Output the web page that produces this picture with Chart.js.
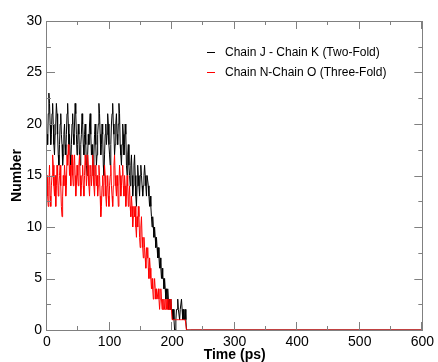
<!DOCTYPE html>
<html>
<head>
<meta charset="utf-8">
<script src="https://cdn.jsdelivr.net/npm/chart.js@4"></script>
<style>
  html, body { margin: 0; padding: 0; background: #fff; }
  canvas { display: block; }
</style>
</head>
<body>
<canvas id="chart" width="438" height="362"></canvas>
<script>
// time points (ps)
const timePs = [
  0,
  1, 2, 3, 4, 5, 6, 7, 8, 9, 10,
  11, 12, 13, 14, 15, 16, 17, 18, 19, 20,
  21, 22, 23, 24, 25, 26, 27, 28, 29, 30,
  31, 32, 33, 34, 35, 36, 37, 38, 39, 40,
  41, 42, 43, 44, 45, 46, 47, 48, 49, 50,
  51, 52, 53, 54, 55, 56, 57, 58, 59, 60,
  61, 62, 63, 64, 65, 66, 67, 68, 69, 70,
  71, 72, 73, 74, 75, 76, 77, 78, 79, 80,
  81, 82, 83, 84, 85, 86, 87, 88, 89, 90,
  91, 92, 93, 94, 95, 96, 97, 98, 99, 100,
  101, 102, 103, 104, 105, 106, 107, 108, 109, 110,
  111, 112, 113, 114, 115, 116, 117, 118, 119, 120,
  121, 122, 123, 124, 125, 126, 127, 128, 129, 130,
  131, 132, 133, 134, 135, 136, 137, 138, 139, 140,
  141, 142, 143, 144, 145, 146, 147, 148, 149, 150,
  151, 152, 153, 154, 155, 156, 157, 158, 159, 160,
  161, 162, 163, 164, 165, 166, 167, 168, 169, 170,
  171, 172, 173, 174, 175, 176, 177, 178, 179, 180,
  181, 182, 183, 184, 185, 186, 187, 188, 189, 190,
  191, 192, 193, 194, 195, 196, 197, 198, 199, 200,
  201, 202, 203, 204, 205, 206, 207, 208, 209, 210,
  211, 212, 213, 214, 215, 216, 217, 218, 219, 220,
  221, 222, 223, 224, 225, 226, 227, 228, 229, 230,
  600
];

const chainJK = [
  19,
  18, 21, 23, 22, 20, 18, 19, 21, 22, 20,
  18, 17, 19, 20, 22, 21, 19, 17, 16, 18,
  20, 21, 19, 18, 16, 17, 19, 20, 18, 17,
  19, 21, 22, 20, 18, 19, 17, 16, 18, 20,
  21, 19, 18, 20, 22, 21, 19, 17, 18, 20,
  19, 17, 16, 18, 19, 21, 20, 18, 17, 19,
  20, 18, 16, 15, 17, 19, 18, 20, 21, 19,
  17, 18, 16, 15, 17, 19, 20, 18, 16, 17,
  19, 20, 22, 21, 19, 17, 18, 20, 19, 16,
  15, 17, 19, 20, 18, 19, 21, 20, 18, 17,
  16, 18, 20, 21, 22, 20, 19, 17, 18, 20,
  21, 19, 18, 20, 22, 21, 18, 17, 16, 18,
  20, 19, 17, 18, 20, 19, 16, 15, 17, 18,
  16, 15, 14, 16, 17, 15, 13, 14, 16, 17,
  15, 13, 12, 14, 16, 15, 14, 13, 15, 16,
  15, 14, 13, 14, 15, 16, 15, 14, 13, 15,
  15, 14, 13, 12, 13, 12, 11, 10, 11, 10,
  9, 10, 9, 8, 9, 8, 7, 8, 7, 6,
  7, 6, 5, 6, 5, 5, 4, 5, 4, 3,
  4, 3, 4, 3, 2, 3, 2, 3, 2, 2,
  1, 2, 1, 0, 0, 1, 2, 2, 3, 2,
  2, 1, 2, 2, 3, 2, 1, 2, 1, 1,
  2, 1, 0, 0, 0, 0, 0, 0, 0, 0,
  0
];

const chainNO = [
  15,
  13, 12, 14, 16, 13, 12, 14, 15, 17, 16,
  14, 13, 15, 12, 14, 16, 15, 13, 14, 15,
  16, 14, 12, 11, 13, 15, 14, 16, 15, 13,
  14, 17, 16, 18, 17, 15, 16, 14, 16, 17,
  15, 14, 16, 17, 15, 13, 14, 16, 15, 14,
  16, 17, 15, 13, 14, 15, 16, 14, 13, 15,
  17, 16, 14, 15, 17, 16, 14, 13, 15, 16,
  14, 15, 17, 16, 14, 13, 15, 16, 14, 15,
  13, 14, 16, 15, 13, 11, 12, 14, 15, 13,
  14, 16, 15, 13, 12, 14, 15, 13, 12, 14,
  15, 16, 14, 13, 12, 14, 16, 17, 15, 14,
  13, 15, 14, 12, 14, 16, 15, 13, 14, 15,
  16, 14, 13, 15, 14, 12, 13, 15, 14, 12,
  13, 14, 12, 11, 13, 12, 10, 11, 12, 11,
  12, 10, 9, 11, 10, 12, 11, 9, 8, 10,
  11, 9, 8, 7, 9, 8, 7, 6, 8, 7,
  8, 6, 5, 7, 6, 5, 4, 5, 4, 3,
  4, 5, 4, 3, 4, 3, 3, 4, 3, 2,
  3, 4, 3, 2, 3, 2, 3, 2, 2, 3,
  2, 3, 2, 2, 3, 2, 2, 3, 2, 1,
  1, 1, 1, 1, 1, 1, 1, 1, 1, 1,
  1, 1, 1, 1, 1, 1, 1, 1, 1, 1,
  1, 1, 0, 0, 0, 0, 0, 0, 0, 0,
  0
];

const seriesLabels = ['Chain J - Chain K (Two-Fold)', 'Chain N-Chain O (Three-Fold)'];

const fontFamily = '"Liberation Sans", Arial, Helvetica, sans-serif';
const frameColor = '#808080';

// frame with inward ticks on all four sides
const framePlugin = {
  id: 'frame',
  afterDatasetsDraw(chart) {
    const { ctx, chartArea: a, scales: { x, y } } = chart;
    ctx.save();
    ctx.strokeStyle = frameColor;
    ctx.lineWidth = 1;
    ctx.strokeRect(Math.round(a.left) - 0.5, Math.round(a.top) + 0.5,
      Math.round(a.right - a.left) + 1, Math.round(a.bottom - a.top));
    ctx.beginPath();
    for (let v = 0; v <= 600; v += 50) {
      const px = Math.round(x.getPixelForValue(v)) - 0.5;
      const len = v % 100 === 0 ? 8 : 4;
      ctx.moveTo(px, a.bottom); ctx.lineTo(px, a.bottom - len);
      ctx.moveTo(px, a.top); ctx.lineTo(px, a.top + len);
    }
    for (let v = 0; v <= 30; v += 2.5) {
      const py = Math.round(y.getPixelForValue(v)) + 0.5;
      const len = v % 5 === 0 ? 8 : 4;
      ctx.moveTo(a.left, py); ctx.lineTo(a.left + len, py);
      ctx.moveTo(a.right, py); ctx.lineTo(a.right - len, py);
    }
    ctx.stroke();
    ctx.restore();
  },
  afterDraw(chart) {
    // legend inside the plot
    const { ctx } = chart;
    ctx.save();
    ctx.font = '12px ' + fontFamily;
    ctx.textBaseline = 'middle';
    chart.data.datasets.forEach((ds, i) => {
      const yy = 52.5 + i * 20;
      ctx.strokeStyle = ds.borderColor;
      ctx.lineWidth = 1;
      ctx.beginPath();
      ctx.moveTo(207, yy); ctx.lineTo(215, yy);
      ctx.stroke();
      ctx.fillStyle = '#000';
      ctx.fillText(ds.label, 225, yy);
    });
    ctx.restore();
  }
};

new Chart(document.getElementById('chart'), {
  type: 'line',
  data: {
    datasets: [
      {
        label: seriesLabels[0],
        data: timePs.map((t, i) => ({ x: t, y: chainJK[i] })),
        borderColor: '#000000',
        borderWidth: 1,
        pointRadius: 0,
        tension: 0,
        order: 1
      },
      {
        label: seriesLabels[1],
        data: timePs.map((t, i) => ({ x: t, y: chainNO[i] })),
        borderColor: '#ff0000',
        borderWidth: 1,
        pointRadius: 0,
        tension: 0,
        order: 0
      }
    ]
  },
  options: {
    responsive: false,
    animation: false,
    layout: { padding: { top: 21, right: 12, left: 0, bottom: 0 } },
    plugins: {
      legend: { display: false },
      tooltip: { enabled: false }
    },
    scales: {
      x: {
        type: 'linear',
        min: 0,
        max: 600,
        grid: { display: false, drawTicks: false },
        border: { display: false },
        ticks: {
          stepSize: 100,
          padding: 4,
          color: '#000',
          maxRotation: 0,
          font: { family: fontFamily, size: 14 }
        },
        title: {
          display: true,
          text: 'Time (ps)',
          color: '#000',
          padding: { top: 0, bottom: 0 },
          font: { family: fontFamily, size: 14, weight: 'bold', lineHeight: 1 }
        },
        afterFit(scale) { scale.height = 32; }
      },
      y: {
        min: 0,
        max: 30,
        grid: { display: false, drawTicks: false },
        border: { display: false },
        ticks: {
          stepSize: 5,
          padding: 5,
          color: '#000',
          font: { family: fontFamily, size: 14 }
        },
        title: {
          display: true,
          text: 'Number',
          color: '#000',
          padding: { top: 10, bottom: 0 },
          font: { family: fontFamily, size: 14, weight: 'bold', lineHeight: 1 }
        },
        afterFit(scale) { scale.width = 47; }
      }
    }
  },
  plugins: [framePlugin]
});
</script>
</body>
</html>
